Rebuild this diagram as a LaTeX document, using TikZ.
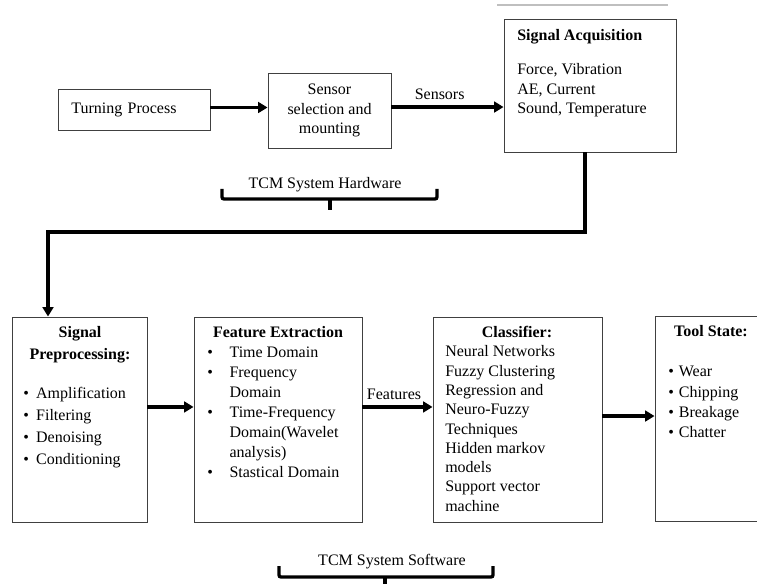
\documentclass[tikz,border=0pt]{standalone}
\usepackage{fontspec}
\setmainfont{Liberation Serif}
\usetikzlibrary{arrows.meta,positioning}
\begin{document}
\begin{tikzpicture}[x=0.75pt, y=-0.75pt,
    every node/.style={font=\fontsize{12}{14.6}\selectfont},
    box/.style={draw=black!75, line width=0.7pt, inner sep=0pt},
    arr/.style={-{Triangle[length=7pt,width=8pt]}, line width=2.5pt},
    brace/.style={line width=2.5pt, rounded corners=1.5pt},
    head/.style={font=\fontsize{12}{14.6}\selectfont\bfseries, inner sep=0pt},
    txt/.style={inner sep=0pt, align=left}]
    \clip (0,0) rectangle (757,584);
    \draw[black!25, line width=0.8pt] (497,5) -- (668,5);

    % hardware row
    \node[box, minimum width=114pt, minimum height=30.75pt, text width=94pt, inner xsep=10pt, align=left] at (134,109.5) (turn) {Turning Process};
    \node[box, minimum width=92.25pt, minimum height=56.25pt, align=center] at (329.5,110.5) (sens) {Sensor\\selection and\\mounting};
    \node[box, minimum width=129pt, minimum height=99.75pt] at (590,85.5) (acq) {};
    \node[head, anchor=base west] at (517,41) (acqhead) {Signal Acquisition};
    \node[txt, anchor=base west] at (517,75) (acqtxt) {\begin{tabular}[t]{@{}l@{}}Force, Vibration\\AE, Current\\Sound, Temperature\end{tabular}};

    \draw[arr] ([yshift=1.5pt]turn.east) -- ([yshift=1.5pt]turn.east -| sens.west);
    \draw[arr] ([yshift=2.6pt]sens.east) -- node[pos=0.43, above=1pt] (senslbl) {Sensors} ([yshift=2.6pt]sens.east -| acq.west);

    \node[inner sep=0pt, anchor=base] at (325,189) (hwlbl) {TCM System Hardware};
    \draw[brace] (222,189) -- (222,199) -- (437,199) -- (437,189);
    \draw[brace] (330,199) -- (330,210);

    % software row
    \node[box, minimum width=101.25pt, minimum height=153.75pt] at (79.5,419.5) (pre) {};
    \node[head, anchor=base] at (80,338) (prehead) {\renewcommand{\arraystretch}{1.13}\begin{tabular}[t]{@{}c@{}}Signal\\Preprocessing:\end{tabular}};
    \node[txt, anchor=base west] at (23,399) (pretxt) {\renewcommand{\arraystretch}{1.13}\begin{tabular}[t]{@{}l@{\hspace{5.5pt}}l@{}}\textbullet & Amplification\\\textbullet & Filtering\\\textbullet & Denoising\\\textbullet & Conditioning\end{tabular}};

    \node[box, minimum width=126pt, minimum height=153.75pt] at (278,419.5) (feat) {};
    \node[head, anchor=base] at (278,338) (feathead) {Feature Extraction};
    \node[txt, anchor=base west] at (207,358) (feattxt) {\renewcommand{\arraystretch}{1.02}\begin{tabular}[t]{@{}l@{\hspace{12.5pt}}l@{}}\textbullet & Time Domain\\\textbullet & Frequency\\ & Domain\\\textbullet & Time-Frequency\\ & Domain(Wavelet\\ & analysis)\\\textbullet & Stastical Domain\end{tabular}};

    \node[box, minimum width=126.75pt, minimum height=153.75pt] at (517.5,419.5) (cls) {};
    \node[head, anchor=base] at (517,338) (clshead) {Classifier:};
    \node[txt, anchor=base west] at (445,357) (clstxt) {\renewcommand{\arraystretch}{0.99}\begin{tabular}[t]{@{}l@{}}Neural Networks\\Fuzzy Clustering\\Regression and\\Neuro-Fuzzy\\Techniques\\Hidden markov\\models\\Support vector\\machine\end{tabular}};

    \node[box, minimum width=90pt, minimum height=153.75pt] at (715,418.5) (tool) {};
    \node[head, anchor=base] at (711,337) (toolhead) {Tool State:};
    \node[txt, anchor=base west] at (668,377) (tooltxt) {\renewcommand{\arraystretch}{1.04}\begin{tabular}[t]{@{}l@{\hspace{3.75pt}}l@{}}\textbullet & Wear\\\textbullet & Chipping\\\textbullet & Breakage\\\textbullet & Chatter\end{tabular}};

    \coordinate (bend) at (48,232);
    \draw[arr] ([xshift=-3.75pt]acq.south) |- (bend) -- (bend |- pre.north);
    \draw[arr] ([yshift=9.4pt]pre.east) -- ([yshift=9.4pt]feat.west);
    \draw[arr] ([yshift=9.4pt]feat.east) -- node[pos=0.45, above=1pt] (featlbl) {Features} ([yshift=9.4pt]cls.west);
    \draw[arr] ([yshift=2.6pt]cls.east) -- ([yshift=2.6pt]cls.east -| tool.west);

    \node[inner sep=0pt, anchor=base] at (392,565) (swlbl) {TCM System Software};
    \draw[brace] (279,566) -- (279,577) -- (493,577) -- (493,566);
    \draw[brace] (385,577) -- (385,590);
\end{tikzpicture}
\end{document}
